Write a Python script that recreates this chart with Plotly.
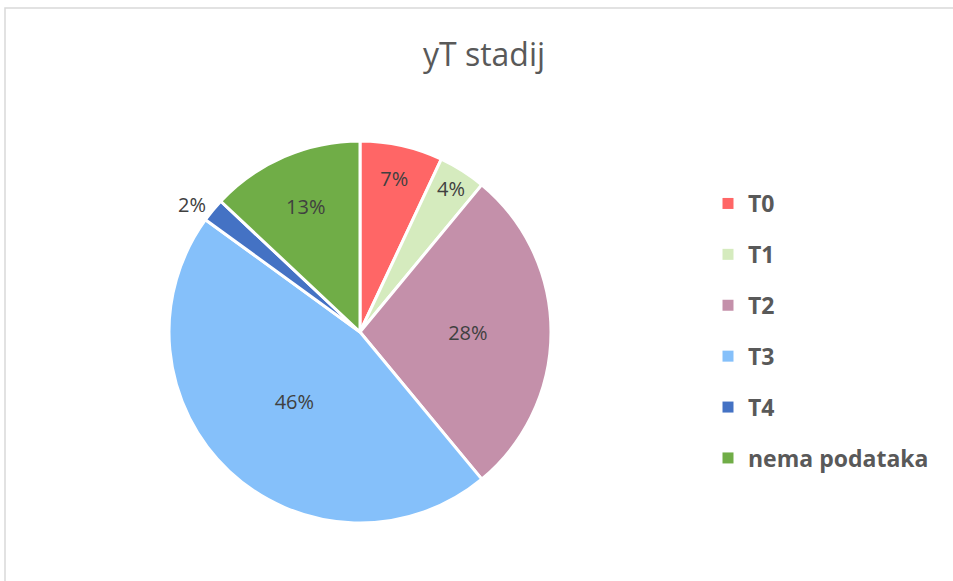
import plotly.graph_objects as go

labels = ["T0", "T1", "T2", "T3", "T4", "nema podataka"]
values = [7, 4, 28, 46, 2, 13]
colors = ["#FF6666", "#D5EBBE", "#C490AA", "#85C0FA", "#4472C4", "#70AD47"]
text_positions = ["inside", "inside", "inside", "inside", "outside", "inside"]

W, H = 953, 581

fig = go.Figure()

fig.add_trace(
    go.Pie(
        labels=labels,
        values=values,
        sort=False,
        direction="clockwise",
        rotation=0,
        marker={"colors": colors, "line": {"color": "#ffffff", "width": 3}},
        texttemplate="%{percent:.0%}",
        textposition=text_positions,
        insidetextorientation="horizontal",
        textfont={"family": "Open Sans, sans-serif", "size": 20, "color": "#404040"},
        hoverinfo="label+percent",
        showlegend=False,
        domain={"x": [(360 - 191) / W, (360 + 191) / W], "y": [(H - 523) / H, (H - 141) / H]},
    )
)

# legend entries (one group each so the gap between them can be set)
for label, color in zip(labels, colors):
    fig.add_trace(
        go.Scatter(
            x=[None],
            y=[None],
            mode="markers",
            name=label,
            legendgroup=label,
            marker={"symbol": "square", "size": 11, "color": color},
            showlegend=True,
        )
    )

fig.update_layout(
    width=W,
    height=H,
    margin={"l": 0, "r": 0, "t": 0, "b": 0},
    paper_bgcolor="#ffffff",
    plot_bgcolor="#ffffff",
    title={
        "text": "yT stadij",
        "x": 484 / W,
        "xanchor": "center",
        "y": 1 - 55 / H,
        "yanchor": "middle",
        "font": {"family": "Open Sans, sans-serif", "size": 32, "color": "#595959"},
    },
    xaxis={"visible": False},
    yaxis={"visible": False},
    legend={
        "x": 708 / W,
        "y": 1 - 182 / H,
        "xanchor": "left",
        "yanchor": "top",
        "font": {"family": "Open Sans, sans-serif", "size": 23, "color": "#595959", "weight": "bold"},
        "tracegroupgap": 18,
        "itemwidth": 30,
        "bgcolor": "rgba(0,0,0,0)",
    },
    showlegend=True,
)

fig.add_shape(
    type="rect",
    xref="paper",
    yref="paper",
    x0=5 / W,
    x1=1.02,
    y0=-0.02,
    y1=1 - 8 / H,
    line={"color": "#d9d9d9", "width": 1.5},
    layer="below",
)

fig.write_html(
    "out.html",
    config={"displayModeBar": False},
    post_script="document.body.style.margin='0';",
)
